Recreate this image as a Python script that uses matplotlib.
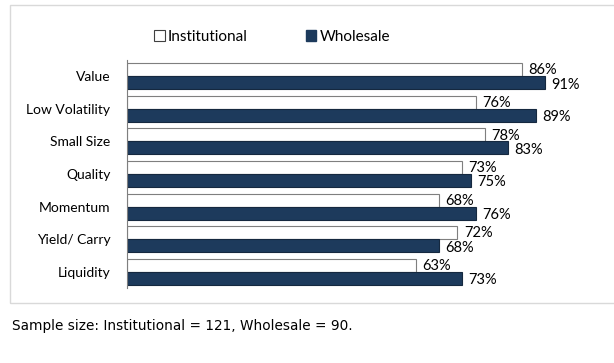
import numpy as np
import matplotlib.pyplot as plt
from matplotlib.patches import Rectangle, Patch

# survey data
factors = ["Value", "Low Volatility", "Small Size", "Quality",
           "Momentum", "Yield/ Carry", "Liquidity"]
institutional = [86, 76, 78, 73, 68, 72, 63]
wholesale = [91, 89, 83, 75, 76, 68, 73]

navy = "#1d3a5c"
label_font = "Lato"

fig = plt.figure(figsize=(6.14, 3.63), dpi=100)

# light grey frame around the chart area
fig.patches.append(Rectangle((10 / 614, 1 - 303 / 363), 1.2, (303 - 5) / 363,
                             transform=fig.transFigure, fill=False,
                             edgecolor="#d9d9d9", linewidth=1))

ax = fig.add_axes([127 / 614, 1 - 288 / 363, (586 - 127) / 614, (288 - 60) / 363])

y = np.arange(len(factors))
h = 0.4
ax.barh(y - h / 2, institutional, height=h, color="white",
        edgecolor="#7f7f7f", linewidth=0.8, label="Institutional")
ax.barh(y + h / 2, wholesale, height=h, color=navy,
        edgecolor="#15283f", linewidth=0.8, label="Wholesale")

for i, (a, b) in enumerate(zip(institutional, wholesale)):
    ax.text(a + 1.4, i - h / 2 + 0.02, f"{a}%", va="center", ha="left",
            fontsize=10.5, family=label_font)
    ax.text(b + 1.4, i + h / 2 + 0.06, f"{b}%", va="center", ha="left",
            fontsize=10.5, family=label_font)

ax.set_xlim(0, 100)
ax.set_ylim(len(factors) - 0.5, -0.5)
ax.set_yticks(y)
ax.set_yticklabels(factors, fontsize=10, family=label_font)
ax.tick_params(axis="y", length=0, pad=12)
ax.set_xticks([])
for s in ["top", "right", "bottom"]:
    ax.spines[s].set_visible(False)
ax.spines["left"].set_color("#7f7f7f")

handles = [Patch(facecolor="white", edgecolor="#404040", linewidth=0.8),
           Patch(facecolor=navy, edgecolor=navy)]
fig.legend(handles, ["Institutional", "Wholesale"], loc="center",
           bbox_to_anchor=(272 / 614, 1 - 37 / 363), ncol=2, frameon=False,
           prop={"family": label_font, "size": 11}, handlelength=0.7,
           handleheight=0.7, handletextpad=0.2, columnspacing=3.8)

fig.text(12 / 614, 1 - 326 / 363, "Sample size: Institutional = 121, Wholesale = 90.",
         fontsize=9.8, family="DejaVu Sans", va="center", ha="left")

fig.savefig("out.png", dpi=100)
